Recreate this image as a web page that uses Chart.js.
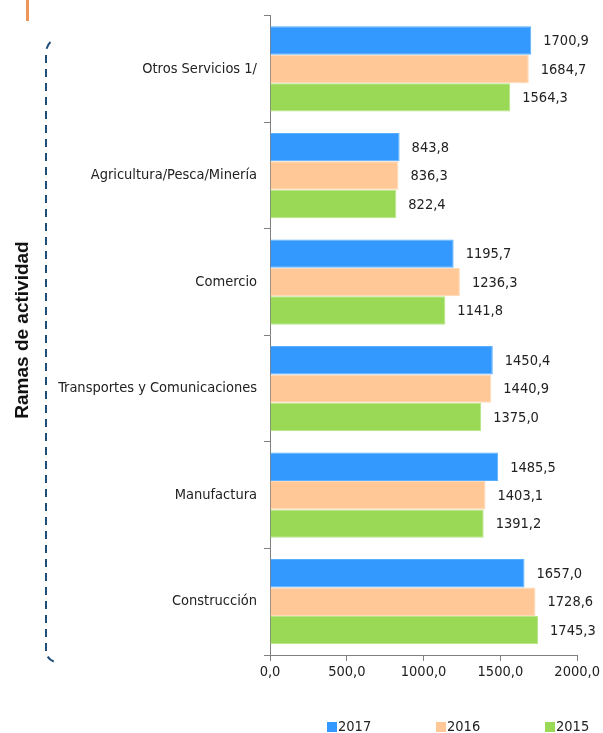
<!DOCTYPE html>
<html><head><meta charset="utf-8">
<script src="https://cdn.jsdelivr.net/npm/chart.js@4/dist/chart.umd.min.js"></script>
<style>html,body{margin:0;padding:0;background:#fff}#wrap{width:603px;height:733px;position:relative}</style>
</head><body><div id="wrap"><canvas id="c"></canvas></div>
<script>
const categories = ["Otros Servicios 1/", "Agricultura/Pesca/Minería", "Comercio", "Transportes y Comunicaciones", "Manufactura", "Construcción"];
const years = ["2017", "2016", "2015"];
const values2017 = [1700.9, 843.8, 1195.7, 1450.4, 1485.5, 1657.0];
const values2016 = [1684.7, 836.3, 1236.3, 1440.9, 1403.1, 1728.6];
const values2015 = [1564.3, 822.4, 1141.8, 1375.0, 1391.2, 1745.3];
const xTicks = [0, 500, 1000, 1500, 2000];
const colors = ["#3399FF", "#FFC896", "#99D955"];
const borders = ["#5AB0FF", "#FFD9B5", "#B5E585"];
const FONT = "'DejaVu Sans Condensed','Liberation Sans',Arial,sans-serif";
const fmt = v => v.toFixed(1).replace('.', ',');

const extras = {
  id: 'extras',
  afterDatasetsDraw(chart) {
    const ctx = chart.ctx;
    ctx.save();
    ctx.font = "14.5px " + FONT;
    ctx.fillStyle = "#222";
    ctx.textAlign = "left";
    ctx.textBaseline = "middle";
    chart.data.datasets.forEach((ds, i) => {
      chart.getDatasetMeta(i).data.forEach((bar, j) => {
        ctx.fillText(fmt(ds.data[j]), bar.x + 12, bar.y + 1);
      });
    });
    ctx.restore();
  },
  afterDraw(chart) {
    const ctx = chart.ctx;
    ctx.save();
    ctx.strokeStyle = "#F0955A"; ctx.lineWidth = 3;
    ctx.beginPath(); ctx.moveTo(27.5, 0); ctx.lineTo(27.5, 21); ctx.stroke();
    ctx.strokeStyle = "#1F4E79"; ctx.lineWidth = 2; ctx.setLineDash([8, 6]);
    ctx.beginPath();
    ctx.moveTo(50.5, 42);
    ctx.quadraticCurveTo(46, 46, 46, 54);
    ctx.lineTo(46, 650);
    ctx.quadraticCurveTo(46, 659, 55, 662);
    ctx.stroke();
    ctx.setLineDash([]);
    ctx.fillStyle = "#111";
    ctx.font = "bold 19px 'Liberation Sans',Arial,sans-serif";
    ctx.translate(23, 330); ctx.rotate(-Math.PI/2);
    ctx.textAlign = "center"; ctx.textBaseline = "middle";
    ctx.fillText("Ramas de actividad", 0, 0);
    ctx.restore();
    ctx.save();
    ctx.font = "14.5px " + FONT; ctx.textBaseline = "middle"; ctx.textAlign = "left";
    const lx = [327, 436, 545];
    years.forEach((y, i) => {
      ctx.fillStyle = colors[i];
      ctx.fillRect(lx[i], 722, 10, 10);
      ctx.fillStyle = "#222";
      ctx.fillText(y, lx[i] + 11, 727);
    });
    ctx.restore();
  }
};

new Chart(document.getElementById('c'), {
  type: 'bar',
  data: {
    labels: categories,
    datasets: [
      { label: years[0], data: values2017, backgroundColor: colors[0], borderColor: borders[0], borderWidth: 1 },
      { label: years[1], data: values2016, backgroundColor: colors[1], borderColor: borders[1], borderWidth: 1 },
      { label: years[2], data: values2015, backgroundColor: colors[2], borderColor: borders[2], borderWidth: 1 }
    ]
  },
  options: {
    indexAxis: 'y',
    responsive: true, maintainAspectRatio: false, animation: false,
    layout: { padding: { top: 15, right: 25, left: 0, bottom: 0 } },
    datasets: { bar: { categoryPercentage: 0.8, barPercentage: 1.0 } },
    plugins: { legend: { display: false }, tooltip: { enabled: false } },
    scales: {
      x: {
        min: 0, max: 2000,
        afterBuildTicks: s => { s.ticks = xTicks.map(v => ({ value: v })); },
        afterFit: s => { s.height = 78; },
        grid: { drawOnChartArea: false, drawTicks: true, tickLength: 6, color: "#808080" },
        border: { color: "#808080", width: 1 },
        ticks: { color: "#222", font: { family: FONT, size: 14.5 }, padding: 3, callback: v => fmt(v) }
      },
      y: {
        afterFit: s => { s.width = 270; },
        grid: { offset: true, drawOnChartArea: false, drawTicks: true, tickLength: 6, color: "#808080" },
        border: { color: "#808080", width: 1 },
        ticks: { color: "#222", font: { family: FONT, size: 14.5 }, padding: 7 }
      }
    }
  },
  plugins: [extras]
});
</script></body></html>
